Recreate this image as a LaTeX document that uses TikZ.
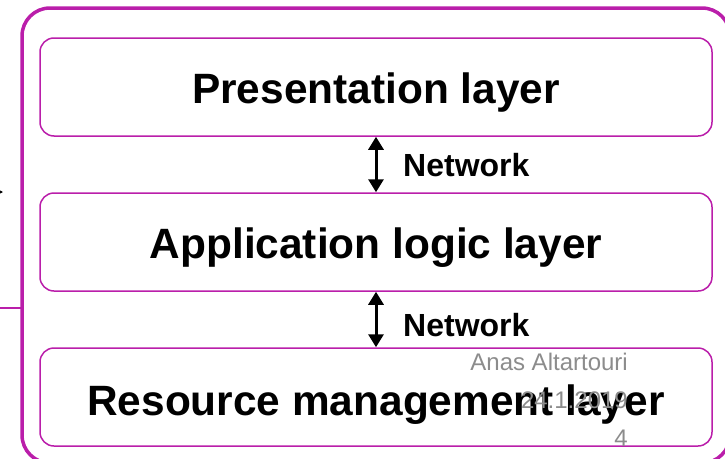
\documentclass[tikz,border=0pt]{standalone}
\usepackage{fontspec}
\setmainfont{Liberation Sans}
\usetikzlibrary{arrows.meta}
\definecolor{frame}{HTML}{BA1EAA}
\definecolor{note}{HTML}{8C8C8C}
\tikzset{
  layerbox/.style={draw=frame, line width=1.5pt, rounded corners=14pt, fill=white,
    minimum width=672pt, minimum height=98pt, inner sep=0pt},
  layertext/.style={font=\bfseries\fontsize{42.4}{48}\selectfont, anchor=base, inner sep=0pt},
  nettext/.style={font=\bfseries\fontsize{32}{36}\selectfont, anchor=base west, inner sep=0pt},
  notetext/.style={font=\fontsize{24}{28}\selectfont, text=note, anchor=base east, inner sep=0pt},
  netarrow/.style={line width=3pt, {Triangle[width=15pt,length=13pt]}-{Triangle[width=15pt,length=13pt]}},
}
\begin{document}
\begin{tikzpicture}[x=1pt, y=-1pt]
  \useasboundingbox (0,0) rectangle (725,458);
  \begin{scope}
    \clip (0,0) rectangle (725,458);
    % outer frame
    \draw[frame, line width=3.5pt, rounded corners=28pt] (22,8) rectangle (730,463);
    % feed line on the left
    \coordinate (feed) at (0,308);
    \coordinate (feedend) at (22,308);
    \draw[frame, line width=2pt] (feed) -- (feedend);
    % arrow tip entering from the left
    \coordinate (tipa) at (-20,192);
    \coordinate (tipb) at (3,192);
    \draw[line width=1pt, -{Triangle[width=6pt,length=6pt]}] (tipa) -- (tipb);
  \end{scope}

  % three layers
  \node[layerbox] (pres) at (376,87) {};
  \node[layerbox] (app)  at (376,242) {};
  \node[layerbox] (res)  at (376,397) {};

  \node[layertext] (presT) at (376,103) {Presentation layer};
  \node[layertext] (appT)  at (376,258) {Application logic layer};
  \node[layertext] (resT)  at (376,415) {Resource management layer};

  % network links
  \draw[netarrow] (pres.south) -- (app.north);
  \draw[netarrow] (app.south) -- (res.north);
  \node[nettext] (net1) at (403,176.5) {Network};
  \node[nettext] (net2) at (403,336.5) {Network};

  % footer
  \node[notetext] (author) at (628,370.5) {Anas Altartouri};
  \node[notetext] (date)   at (628,408.5) {24.1.2019};
  \node[notetext] (page)   at (628,446) {4};
\end{tikzpicture}
\end{document}
